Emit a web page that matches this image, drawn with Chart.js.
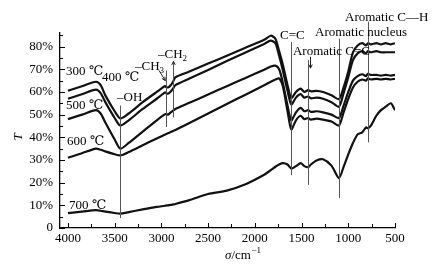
<!DOCTYPE html>
<html><head><meta charset="utf-8">
<style>html,body{margin:0;padding:0;background:#fff;}#wrap{width:446px;height:268px;}</style>
<script src="https://cdn.jsdelivr.net/npm/chart.js@4"></script>
</head><body><div id="wrap"><canvas id="c" width="446" height="268"></canvas></div>
<script>
// ---- data ----
const wavenumbers = [4000,3850,3700,3650,3600,3500,3440,3350,3200,3050,2960,2950,2930,2900,2875,2850,2700,2500,2300,2100,1900,1830,1780,1740,1700,1650,1610,1560,1510,1470,1430,1400,1340,1270,1180,1100,1050,1000,950,900,850,810,790,760,700,650,600,545,500];
const t300 = [60.5,62.5,64.5,63,58.5,51.5,48.3,50.5,55.5,60,62.6,62.2,62.0,63,64.5,66.5,69,72.5,76,79.5,83,84.8,83.5,78,72,63,57.3,60,61.5,60,60.8,60.3,60.5,60,58.5,56.8,62,69,77.5,80.5,81.5,80.5,81.5,81,81.5,81,81.5,81,81.5];
const t400 = [57,59,61,59.5,55.5,48.5,45.2,47.5,52.5,57,59.8,59.5,59.2,60.2,61.5,63,65.9,69.7,73.6,77.4,81.2,82.6,81.5,76,69.5,60.5,54.5,57.5,59,57.5,58,57.2,57.5,57,55.5,53.5,59.5,66.5,74,77,78,77,78,77.5,78,77.5,77.5,77.5,77.5];
const t500 = [48,50,52,50.5,46.5,39,35,37.5,42.5,47.5,50.2,50.2,50.0,51,51.8,52.5,55.2,58.9,62.5,66.2,69.8,71.2,71.6,70,64,54,47.5,51,53,51.5,52,51.2,51.5,51,50,48.5,54,60,65,67,67.8,67,68,67.5,67.5,67.2,67.5,67.2,67.5];
const t600 = [31,33,35,34.5,33.8,32.5,32,33.5,36.5,39.5,41.2,41.4,41.8,42.3,42.8,43.2,46.3,50.5,54.7,58.8,63,64.5,65.5,66,62.5,51.5,43.5,47.5,49.5,48,48.5,47.8,48.2,47.8,47,45.2,51,57,62,64.5,65.5,65,66,65.5,65.8,65.5,65.8,65.5,65.8];
const t700 = [6.6,7.2,7.9,7.6,7.2,6.6,6.3,7.0,8.2,9.3,9.8,9.9,10.0,10.2,10.4,10.6,12.3,15,16.5,19.3,23.5,25.5,27,28,28.6,28,26.2,27.3,28.6,27.3,26.8,28,29.8,30.3,27.5,22,27,32.5,37.5,41.3,42.2,44.4,44,45,49.5,52,53.5,55,52];
const seriesLabels = ['300 ℃','400 ℃','500 ℃','600 ℃','700 ℃'];
const xTicks = [4000,3500,3000,2500,2000,1500,1000,500];
const yTicks = [0,10,20,30,40,50,60,70,80];
// curve label anchors (wavenumber, T)
const labelW = [4021,3636,4021,4010,3989];
const labelT = [68.8,66.2,53.8,37.9,9.7];
// band guide lines (wavenumber, top T, bottom T)
const guideW = [3440,2950,2875,1610,1430,1100,790];
const guideTop = [54,69.5,73.5,82,74,83.5,91];
const guideBottom = [4.4,44.5,48.8,23.3,19,13.2,37.8];
// band notes
const noteTexts = ['–OH','–CH_3','–CH_2','C=C','Aromatic nucleus','Aromatic C—H','Aromatic C=C'];
const noteW = [3475,3282,3036,1731,1356,1035,1592];
const noteT = [57.3,71,76.3,84.7,86.0,93,77.6];

const series = [t300,t400,t500,t600,t700];
const FONT = '13px "Liberation Serif", "DejaVu Serif", serif';
const SUBFONT = '9px "Liberation Serif", "DejaVu Serif", serif';

function drawRich(ctx, text, x, y){
  const parts = text.split('_');
  ctx.font = FONT; ctx.fillText(parts[0], x, y);
  const w = ctx.measureText(parts[0]).width;
  if (parts[1]) { ctx.font = SUBFONT; ctx.fillText(parts[1], x + w, y + 4); }
}
function arrowHead(ctx, x, y, ang){
  const l = 4;
  ctx.beginPath();
  ctx.moveTo(x - l*Math.cos(ang - 0.45), y - l*Math.sin(ang - 0.45));
  ctx.lineTo(x, y);
  ctx.lineTo(x - l*Math.cos(ang + 0.45), y - l*Math.sin(ang + 0.45));
  ctx.stroke();
}

const annot = {
  id:'annot',
  afterDraw(chart){
    const ctx = chart.ctx, xs = chart.scales.x, ys = chart.scales.y;
    ctx.save();
    ctx.strokeStyle = '#000'; ctx.lineWidth = 1;
    // inward tick marks
    for (let v = 500; v <= 4000; v += 250){
      const px = Math.round(xs.getPixelForValue(v)) + 0.5;
      const len = v % 500 === 0 ? 5 : 4;
      ctx.beginPath(); ctx.moveTo(px, ys.bottom); ctx.lineTo(px, ys.bottom - len); ctx.stroke();
    }
    for (let v = 0; v <= 85; v += 5){
      const py = Math.round(ys.getPixelForValue(v)) + 0.5;
      const len = v % 10 === 0 ? 5 : 3;
      ctx.beginPath(); ctx.moveTo(xs.left, py); ctx.lineTo(xs.left + len, py); ctx.stroke();
    }
    // guide lines
    ctx.strokeStyle = '#555'; ctx.lineWidth = 1;
    guideW.forEach((w,i)=>{
      const px = Math.round(xs.getPixelForValue(w)) + 0.5;
      ctx.beginPath(); ctx.moveTo(px, ys.getPixelForValue(guideTop[i])); ctx.lineTo(px, ys.getPixelForValue(guideBottom[i])); ctx.stroke();
    });
    // small arrows
    ctx.strokeStyle = '#222';
    let ax0 = xs.getPixelForValue(3026), ay0 = ys.getPixelForValue(69.5), ax1 = xs.getPixelForValue(2958), ay1 = ys.getPixelForValue(65);
    ctx.beginPath(); ctx.moveTo(ax0, ay0); ctx.lineTo(ax1, ay1); ctx.stroke();
    arrowHead(ctx, ax1, ay1, Math.atan2(ay1-ay0, ax1-ax0));
    arrowHead(ctx, Math.round(xs.getPixelForValue(2875))+0.5, ys.getPixelForValue(73.5), -Math.PI/2);
    let bx = Math.round(xs.getPixelForValue(1410))+0.5;
    ctx.beginPath(); ctx.moveTo(bx, ys.getPixelForValue(75.5)); ctx.lineTo(bx, ys.getPixelForValue(70.5)); ctx.stroke();
    arrowHead(ctx, bx, ys.getPixelForValue(70.5), Math.PI/2);
    // texts
    ctx.fillStyle = '#000'; ctx.textBaseline = 'middle'; ctx.textAlign = 'left';
    seriesLabels.forEach((t,i)=> drawRich(ctx, t, xs.getPixelForValue(labelW[i]), ys.getPixelForValue(labelT[i])));
    noteTexts.forEach((t,i)=> drawRich(ctx, t, xs.getPixelForValue(noteW[i]), ys.getPixelForValue(noteT[i])));
    // x title
    let tx = 225, ty = 256;
    ctx.font = 'italic ' + FONT; ctx.fillText('σ', tx, ty); tx += ctx.measureText('σ').width;
    ctx.font = FONT; ctx.fillText('/cm', tx, ty); tx += ctx.measureText('/cm').width;
    ctx.font = SUBFONT; ctx.fillText('−1', tx + 0.5, ty - 5);
    // y title
    ctx.save(); ctx.translate(19, 137); ctx.rotate(-Math.PI/2);
    ctx.textAlign = 'center'; ctx.font = 'italic ' + FONT; ctx.fillText('T', 0, 0);
    ctx.restore();
    ctx.restore();
  }
};

new Chart(document.getElementById('c'), {
  type:'line',
  data:{ datasets: series.map((s,i)=>({
    label: seriesLabels[i],
    data: wavenumbers.map((w,j)=>({x:w, y:s[j]})),
    borderColor:'#111', borderWidth:2.2, pointRadius:0, tension:0.25, fill:false
  }))},
  options:{
    responsive:false, animation:false, devicePixelRatio:1,
    layout:{padding:{left:0,right:51,top:33,bottom:0}},
    plugins:{legend:{display:false}, tooltip:{enabled:false}},
    scales:{
      x:{type:'linear', reverse:true, min:500, max:4085,
        afterBuildTicks:s=>{s.ticks = xTicks.map(v=>({value:v}));},
        grid:{display:false, drawTicks:false},
        border:{display:true, color:'#000', width:1.3},
        ticks:{padding:3, color:'#000', maxRotation:0, autoSkip:false, font:{family:'"Liberation Serif", serif', size:13}, callback:v=> String(v)},
        afterFit:s=>{s.height = 40;}
      },
      y:{min:0, max:86,
        afterBuildTicks:s=>{s.ticks = yTicks.map(v=>({value:v}));},
        grid:{display:false, drawTicks:false},
        border:{display:true, color:'#000', width:1.3},
        ticks:{padding:7, color:'#000', font:{family:'"Liberation Serif", serif', size:13}, callback:v=> v===0 ? '0' : v + '%'},
        afterFit:s=>{s.width = 60;}
      }
    }
  },
  plugins:[annot]
});
</script></body></html>
